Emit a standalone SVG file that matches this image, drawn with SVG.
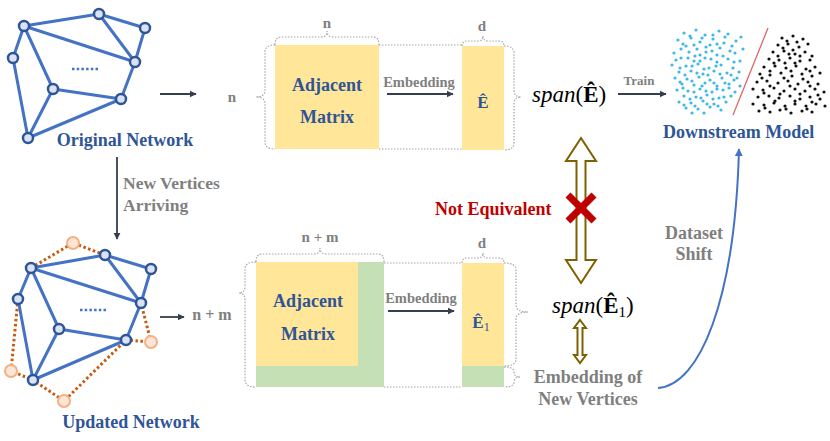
<svg xmlns="http://www.w3.org/2000/svg" width="830" height="441" viewBox="0 0 830 441">
<defs>
<marker id="ah" markerWidth="4" markerHeight="4" refX="9" refY="5" viewBox="0 0 10 10" orient="auto" markerUnits="strokeWidth"><path d="M0,0 L10,5 L0,10 z" fill="#333F50"/></marker>
<marker id="ahb" markerWidth="4" markerHeight="4" refX="9" refY="5" viewBox="0 0 10 10" orient="auto" markerUnits="strokeWidth"><path d="M0,0 L10,5 L0,10 z" fill="#4472C4"/></marker>
</defs>
<style>
text{font-family:"Liberation Serif","Times New Roman",serif;font-weight:bold}
.blue{fill:#2F5597}
.gray{fill:#7F7F7F}
.edge{stroke:#4472C4;stroke-width:3;fill:none;stroke-linecap:round}
.odot{stroke:#C55A11;stroke-width:3;fill:none;stroke-dasharray:2.5 2.5}
.nd{fill:#DAE3F3;stroke:#2F5597;stroke-width:2.5}
.on{fill:#FBE5D6;stroke:#F4B183;stroke-width:2}
.arr{stroke:#333F50;stroke-width:1.8;fill:none;marker-end:url(#ah)}
.brace{stroke:#A6A6A6;stroke-width:1.2;fill:none;stroke-dasharray:1.5 1.5}
.yel{fill:#FFE699}
.grn{fill:#C5E0B4}
.dbl{fill:#fff;stroke:#7F6000;stroke-width:2;stroke-linejoin:miter}
</style>
<rect width="830" height="441" fill="#fff"/>

<!-- Original network -->
<g id="original-network">
<path class="edge" d="M24 26L99 14M99 14L145 28M99 14L135 62M145 28L135 62M24 26L135 62M24 26L13 58M24 26L53 89M13 58L28 138M53 89L28 138M53 89L121 99M135 62L121 99M121 99L28 138"/>
<path d="M72 69H98" stroke="#4472C4" stroke-width="2.5" stroke-dasharray="2.5 2.2"/>
<circle class="nd" cx="24" cy="26" r="5"/><circle class="nd" cx="99" cy="14" r="5"/><circle class="nd" cx="145" cy="28" r="5"/><circle class="nd" cx="13" cy="58" r="5"/><circle class="nd" cx="135" cy="62" r="5"/><circle class="nd" cx="53" cy="89" r="5"/><circle class="nd" cx="121" cy="99" r="5"/><circle class="nd" cx="28" cy="138" r="5"/>
<text class="blue" x="125" y="146" font-size="18" text-anchor="middle">Original Network</text>
</g>

<!-- Updated network -->
<g id="updated-network">
<path class="odot" d="M31 268L73 243L105 255M18 299L11 371L33 380L64 401L126 340L151 342L141 303"/>
<path class="edge" d="M31 268L105 255M105 255L151 269M105 255L141 303M151 269L141 303M31 268L141 303M31 268L18 299M31 268L59 329M18 299L33 380M59 329L33 380M59 329L126 340M141 303L126 340M126 340L33 380"/>
<path d="M80 310H107" stroke="#4472C4" stroke-width="2.5" stroke-dasharray="2.5 2.2"/>
<circle class="nd" cx="31" cy="268" r="5"/><circle class="nd" cx="105" cy="255" r="5"/><circle class="nd" cx="151" cy="269" r="5"/><circle class="nd" cx="18" cy="299" r="5"/><circle class="nd" cx="141" cy="303" r="5"/><circle class="nd" cx="59" cy="329" r="5"/><circle class="nd" cx="126" cy="340" r="5"/><circle class="nd" cx="33" cy="380" r="5"/>
<circle class="on" cx="73" cy="243" r="6"/><circle class="on" cx="151" cy="342" r="6"/><circle class="on" cx="11" cy="371" r="6"/><circle class="on" cx="64" cy="401" r="6"/>
<text class="blue" x="131" y="428" font-size="18" text-anchor="middle">Updated Network</text>
</g>

<!-- Top matrix block -->
<g id="top-matrix">
<rect class="yel" x="275" y="45" width="104" height="104"/>
<text class="blue" x="327" y="91" font-size="18" text-anchor="middle">Adjacent</text>
<text class="blue" x="327" y="123" font-size="18" text-anchor="middle">Matrix</text>
<path class="brace" d="M379 45H462M379 149H462"/>
<path class="brace" d="M275 45Q275 37 281 37L321 37Q327 37 327 31Q327 37 333 37L373 37Q379 37 379 45"/>
<path class="brace" d="M275 45Q265 45 265 52L265 90Q265 97 256 97Q265 97 265 104L265 142Q265 149 275 149"/>
<text class="gray" x="327" y="28" font-size="15" text-anchor="middle">n</text>
<text class="gray" x="232" y="102" font-size="15" text-anchor="middle">n</text>
</g>
<g id="top-embedding">
<rect class="yel" x="462" y="46" width="42" height="104"/>
<text class="blue" x="483" y="108" font-size="17" text-anchor="middle">Ê</text>
<path class="brace" d="M462 46Q462 41 467 41L478 41Q483 41 483 36Q483 41 488 41L499 41Q504 41 504 46"/>
<path class="brace" d="M504 46Q514 46 514 53L514 90Q514 97 521 97Q514 97 514 104L514 143Q514 150 504 150"/>
<text class="gray" x="482" y="31" font-size="15" text-anchor="middle">d</text>
</g>

<!-- Bottom matrix block -->
<g id="bottom-matrix">
<rect class="grn" x="256" y="262" width="128" height="125"/>
<rect class="yel" x="256" y="262" width="102" height="104"/>
<text class="blue" x="308" y="307" font-size="18" text-anchor="middle">Adjacent</text>
<text class="blue" x="308" y="340" font-size="18" text-anchor="middle">Matrix</text>
<path class="brace" d="M384 263H462M384 387H462"/>
<path class="brace" d="M256 262Q256 254 262 254L314 254Q320 254 320 248Q320 254 326 254L378 254Q384 254 384 262"/>
<path class="brace" d="M256 262Q245 262 245 269L245 286Q245 293 239 293Q245 293 245 300L245 380Q245 387 256 387"/>
<text class="gray" x="320" y="242" font-size="15" text-anchor="middle">n + m</text>
<text class="gray" x="212" y="320" font-size="16" text-anchor="middle">n + m</text>
</g>
<g id="bottom-embedding">
<rect class="grn" x="462" y="263" width="42" height="124"/>
<rect class="yel" x="462" y="263" width="42" height="103"/>
<text class="blue" x="481" y="328" font-size="17" text-anchor="middle">Ê<tspan font-size="12" font-weight="normal" dy="3">1</tspan></text>
<path class="brace" d="M462 263Q462 258 467 258L478 258Q483 258 483 253Q483 258 488 258L499 258Q504 258 504 263"/>
<path class="brace" d="M504 263Q516 263 516 270L516 305Q516 312 528 312Q516 312 516 319L516 359Q516 366 504 366"/>
<path class="brace" d="M504 367Q514 367 514 372Q514 377 520 377Q514 377 514 382Q514 387 504 387"/>
<text class="gray" x="482" y="248" font-size="15" text-anchor="middle">d</text>
</g>

<g id="span-top">
<text x="532" y="102" font-size="23" font-weight="normal" fill="#000" style="font-weight:normal"><tspan font-style="italic">span</tspan>(<tspan style="font-weight:bold">Ê</tspan>)</text>
</g>
<g id="span-bottom">
<text x="552" y="313" font-size="23" fill="#000" style="font-weight:normal"><tspan font-style="italic">span</tspan>(<tspan style="font-weight:bold">Ê</tspan><tspan font-size="15" dy="4">1</tspan><tspan dy="-4">)</tspan></text>
</g>

<g id="downstream-model">
<path d="M768 28L733 115" stroke="#E06666" stroke-width="1.3"/>
<path stroke="#3DB8E8" stroke-width="3.2" stroke-linecap="round" d="M684 33h0M696 30h0M705 35h0M719 31h0M728 34h0M741 37h0M678 40h0M691 38h0M700 42h0M713 39h0M724 43h0M736 41h0M686 46h0M697 49h0M710 45h0M720 48h0M732 46h0M743 49h0M674 53h0M689 52h0M700 55h0M712 51h0M723 56h0M735 53h0M681 58h0M694 61h0M705 58h0M717 62h0M728 59h0M740 61h0M672 65h0M686 66h0M698 64h0M709 68h0M721 65h0M733 68h0M679 72h0M691 71h0M703 74h0M714 71h0M727 73h0M739 72h0M675 78h0M687 79h0M699 77h0M710 80h0M722 78h0M734 80h0M682 84h0M694 85h0M705 83h0M717 86h0M729 84h0M740 86h0M677 90h0M688 91h0M700 89h0M712 92h0M723 90h0M735 92h0M684 96h0M696 97h0M707 95h0M719 98h0M731 96h0M679 102h0M691 103h0M703 101h0M714 104h0M726 102h0M686 108h0M698 109h0M710 107h0M721 110h0M690 36h0M702 38h0M713 35h0M725 37h0M683 44h0M694 45h0M706 47h0M717 44h0M730 51h0M681 49h0M695 56h0M706 52h0M717 55h0M676 60h0M688 58h0M700 61h0M711 59h0M734 62h0M680 68h0M692 66h0M704 69h0M716 66h0M685 75h0M697 73h0M708 75h0M720 74h0M731 75h0M680 82h0M692 81h0M702 86h0M714 83h0M725 83h0M737 78h0M683 88h0M694 92h0M706 91h0M717 89h0M729 88h0M690 99h0M701 98h0M713 99h0M724 97h0M684 105h0M695 106h0M707 104h0M718 106h0M692 113h0M704 113h0"/>
<path stroke="#111" stroke-width="3.2" stroke-linecap="round" d="M782 38h0M793 36h0M803 39h0M778 45h0M788 44h0M799 47h0M808 44h0M773 52h0M784 51h0M795 54h0M805 52h0M812 56h0M769 59h0M779 60h0M790 58h0M800 61h0M810 60h0M764 67h0M775 66h0M786 68h0M796 66h0M806 69h0M815 67h0M760 74h0M770 75h0M781 73h0M792 76h0M802 74h0M812 76h0M820 73h0M757 82h0M767 81h0M778 83h0M788 81h0M798 84h0M808 82h0M818 84h0M753 89h0M763 90h0M774 88h0M784 91h0M795 89h0M805 91h0M815 89h0M824 92h0M758 97h0M769 96h0M779 98h0M790 96h0M800 99h0M810 97h0M820 99h0M753 104h0M764 105h0M774 103h0M785 106h0M795 104h0M806 106h0M816 104h0M825 106h0M759 111h0M770 112h0M780 110h0M791 113h0M802 111h0M812 112h0M787 41h0M797 42h0M783 48h0M793 50h0M778 56h0M789 54h0M800 56h0M774 63h0M785 63h0M795 63h0M770 71h0M791 71h0M810 71h0M762 78h0M784 78h0M803 79h0M770 86h0M790 86h0M810 86h0M764 93h0M780 94h0M800 94h0M818 95h0M775 101h0M795 101h0M812 102h0M765 108h0M786 109h0M807 109h0"/>
<text class="blue" x="663" y="138" font-size="18">Downstream Model</text>
</g>

<g id="not-equivalent">
<polygon class="dbl" points="581,138 596,161 585.5,161 585.5,260 596,260 581,283 566,260 576.5,260 576.5,161 566,161"/>
<path d="M568 195L594 221M594 195L568 221" stroke="#C00000" stroke-width="7"/>
<text x="435" y="215" font-size="18" fill="#C00000">Not Equivalent</text>
</g>

<g id="new-vertices-embedding">
<polygon class="dbl" stroke-width="1.6" points="580,320 586,328 582.5,328 582.5,355 586,355 580,363 574,355 577.5,355 577.5,328 574,328"/>
<text class="gray" x="588" y="383" font-size="18" text-anchor="middle">Embedding of</text>
<text class="gray" x="588" y="405" font-size="18" text-anchor="middle">New Vertices</text>
</g>

<g id="connectors">
<path class="arr" d="M160 94H196"/>
<path class="arr" d="M160 317H184"/>
<path class="arr" d="M117 157V239"/>
<path class="arr" d="M387 94H453"/>
<path class="arr" d="M388 311H454"/>
<path class="arr" d="M618 94H666"/>
<path d="M658 388C700 385 735 300 739 149" stroke="#4472C4" stroke-width="2" fill="none" marker-end="url(#ahb)"/>
<text class="gray" x="123" y="189" font-size="17.5">New Vertices</text>
<text class="gray" x="123" y="211" font-size="17.5">Arriving</text>
<text class="gray" x="419" y="87" font-size="14.5" text-anchor="middle">Embedding</text>
<text class="gray" x="421" y="303" font-size="14.5" text-anchor="middle">Embedding</text>
<text class="gray" x="639" y="85" font-size="13" text-anchor="middle">Train</text>
<text class="gray" x="694" y="239" font-size="18" text-anchor="middle">Dataset</text>
<text class="gray" x="694" y="260" font-size="18" text-anchor="middle">Shift</text>
</g>
</svg>
